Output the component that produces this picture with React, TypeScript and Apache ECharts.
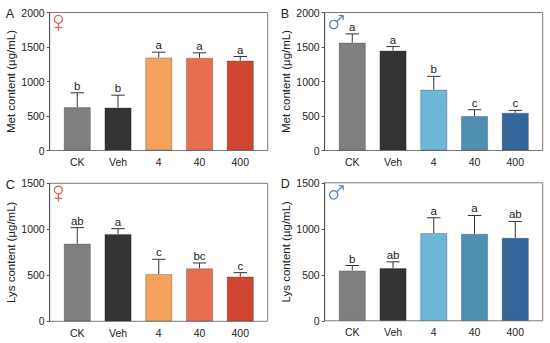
import React, { useEffect, useRef } from "react";
import * as echarts from "echarts";

const categories = ["CK", "Veh", "4", "40", "400"];
const metFemale = [628, 623, 1348, 1343, 1304];
const metFemaleErr = [836, 802, 1425, 1415, 1362];
const metFemaleSig = ["b", "b", "a", "a", "a"];
const metMale = [1564, 1448, 881, 499, 547];
const metMaleErr = [1690, 1506, 1075, 591, 581];
const metMaleSig = ["a", "a", "b", "c", "c"];
const lysFemale = [844, 949, 514, 576, 486];
const lysFemaleErr = [1018, 1007, 674, 634, 529];
const lysFemaleSig = ["ab", "a", "c", "bc", "c"];
const lysMale = [547, 572, 953, 946, 902];
const lysMaleErr = [601, 641, 1120, 1145, 1080];
const lysMaleSig = ["b", "ab", "a", "a", "ab"];
const femaleColors = ["#7f7f7f", "#333333", "#f4a25e", "#e76f50", "#cf4631"];
const maleColors = ["#7f7f7f", "#333333", "#6cb7d6", "#4f8fb0", "#33669a"];

const FONT = "'Liberation Sans', Arial, sans-serif";

const panels = [
  { id: "A", name: "Met content (µg/mL)", max: 2000, values: metFemale, errs: metFemaleErr, sig: metFemaleSig, colors: femaleColors, left: 49.7, top: 12.5, female: true },
  { id: "B", name: "Met content (µg/mL)", max: 2000, values: metMale, errs: metMaleErr, sig: metMaleSig, colors: maleColors, left: 324.7, top: 12.5, female: false },
  { id: "C", name: "Lys content (µg/mL)", max: 1500, values: lysFemale, errs: lysFemaleErr, sig: lysFemaleSig, colors: femaleColors, left: 49.7, top: 183.3, female: true },
  { id: "D", name: "Lys content (µg/mL)", max: 1500, values: lysMale, errs: lysMaleErr, sig: lysMaleSig, colors: maleColors, left: 324.7, top: 182.8, female: false },
];

function sexSymbol(x: number, y: number, female: boolean) {
  const style = { stroke: female ? "#d9604f" : "#4f82ad", fill: "none", lineWidth: 1.2 };
  const line = (x1: number, y1: number, x2: number, y2: number) => ({ type: "line", shape: { x1, y1, x2, y2 }, style });
  if (female) {
    return {
      type: "group", x, y,
      children: [
        { type: "circle", shape: { cx: 8.7, cy: 6.8, r: 4 }, style },
        line(8.7, 10.8, 8.7, 18.2),
        line(5, 15, 12.5, 15),
      ],
    };
  }
  return {
    type: "group", x, y,
    children: [
      { type: "circle", shape: { cx: 9, cy: 12, r: 4.2 }, style },
      line(12, 9, 18.5, 3),
      line(14, 3, 18.5, 3),
      line(18.5, 3, 18.5, 7.5),
    ],
  };
}

function buildOption() {
  const grid: any[] = [];
  const xAxis: any[] = [];
  const yAxis: any[] = [];
  const series: any[] = [];
  const graphic: any[] = [];
  const W = 218, H = 138, BAND = 40.75, INSET = 7.2;

  panels.forEach((p) => {
    const outer = grid.length;
    const inner = outer + 1;
    grid.push({ left: p.left, top: p.top, width: W, height: H, show: true, borderColor: "#7a7a7a", borderWidth: 1, backgroundColor: "transparent" });
    grid.push({ left: p.left + INSET, top: p.top, width: BAND * 5, height: H });

    xAxis.push({ gridIndex: outer, type: "value", min: 0, max: 1, show: false });
    xAxis.push({
      gridIndex: inner, type: "category", data: categories,
      axisTick: { alignWithLabel: true, length: 3, lineStyle: { color: "#333" } },
      axisLine: { show: false },
      axisLabel: { color: "#222", fontFamily: FONT, fontSize: 10.5, margin: 6 },
    });
    yAxis.push({
      gridIndex: outer, type: "value", min: 0, max: p.max, interval: 500,
      name: p.name, nameLocation: "middle", nameRotate: 90, nameGap: 32.5,
      nameTextStyle: { color: "#222", fontFamily: FONT, fontSize: 11.5 },
      axisLine: { show: true, lineStyle: { color: "#555" } },
      axisTick: { show: true, length: 3, lineStyle: { color: "#555" } },
      axisLabel: { color: "#222", fontFamily: FONT, fontSize: 10.5, margin: 5, formatter: (v: number) => String(v) },
      splitLine: { show: false },
    });
    yAxis.push({ gridIndex: inner, type: "value", min: 0, max: p.max, interval: 500, show: false, splitLine: { show: false } });

    series.push({
      type: "bar", xAxisIndex: inner, yAxisIndex: inner, barWidth: 27,
      data: p.values.map((v, i) => ({
        value: v,
        itemStyle: { color: p.colors[i], borderColor: "rgba(40,40,40,0.35)", borderWidth: 0.8 },
      })),
      z: 2,
    });
    series.push({
      type: "custom", xAxisIndex: inner, yAxisIndex: inner, z: 3, clip: false,
      data: p.values.map((v, i) => [i, v, p.errs[i]]),
      encode: { x: 0, y: [1, 2] },
      renderItem: (params: any, api: any) => {
        const i = api.value(0);
        const base = api.coord([i, api.value(1)]);
        const top = api.coord([i, api.value(2)]);
        const line = { stroke: "#333", lineWidth: 1 };
        return {
          type: "group",
          children: [
            { type: "line", shape: { x1: base[0], y1: base[1], x2: top[0], y2: top[1] }, style: line },
            { type: "line", shape: { x1: top[0] - 6.7, y1: top[1], x2: top[0] + 6.7, y2: top[1] }, style: line },
            { type: "text", x: top[0], y: top[1] - 1, style: { text: p.sig[params.dataIndex], fontFamily: FONT, fontSize: 11.5, fill: "#222", textAlign: "center", textVerticalAlign: "bottom" } },
          ],
        };
      },
    });

    graphic.push({ type: "text", left: p.left - 44, top: p.top - 5, style: { text: p.id, fontFamily: FONT, fontSize: 12.5, fill: "#222" } });
    graphic.push(sexSymbol(p.left, p.top, p.female));
  });

  return { animation: false, backgroundColor: "#fff", grid, xAxis, yAxis, series, graphic };
}

export default function App() {
  const ref = useRef<HTMLDivElement>(null);
  useEffect(() => {
    document.body.style.margin = "0";
    const chart = echarts.init(ref.current!, undefined, { renderer: "svg" });
    chart.setOption(buildOption());
    return () => chart.dispose();
  }, []);
  return <div ref={ref} style={{ width: 550, height: 343 }} />;
}
